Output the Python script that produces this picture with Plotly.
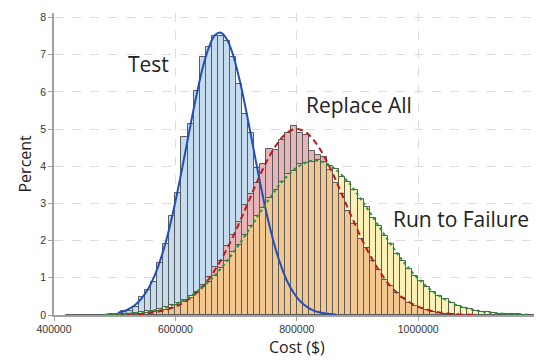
import plotly.graph_objects as go

# ---------------- data ----------------
BIN_W = 10000

test_bin_start = 500000
test_pct = [0.02, 0.10, 0.12, 0.22, 0.48, 0.67, 0.90, 1.40, 1.92, 2.67,
            3.27, 4.79, 5.14, 6.02, 6.94, 7.20, 7.50, 7.50, 7.37, 6.94,
            6.20, 5.40, 4.90, 3.95, 3.10, 2.35, 1.75, 1.20, 0.85, 0.56,
            0.35, 0.22, 0.13, 0.07, 0.04, 0.02]

replace_bin_start = 520000
replace_pct = [0.01, 0.02, 0.03, 0.05, 0.08, 0.10, 0.14, 0.20, 0.27, 0.36,
               0.45, 0.62, 0.80, 1.02, 1.30, 1.45, 1.85, 2.15, 2.50, 2.95,
               3.25, 3.55, 4.05, 4.47, 4.45, 4.70, 4.90, 5.08, 4.90, 4.85,
               4.40, 4.30, 4.25, 3.90, 3.55, 3.25, 2.80, 2.45, 2.05, 1.80,
               1.45, 1.20, 0.95, 0.78, 0.58, 0.45, 0.33, 0.25, 0.18, 0.13,
               0.09, 0.06, 0.04, 0.02, 0.01]

run_bin_start = 420000
run_pct = [0.01, 0.01, 0.01, 0.01, 0.01, 0.01, 0.01, 0.02, 0.02, 0.03,
           0.04, 0.05, 0.07, 0.10, 0.12, 0.17, 0.22, 0.26, 0.33, 0.40,
           0.52, 0.60, 0.76, 0.90, 1.05, 1.27, 1.45, 1.70, 1.88, 2.15,
           2.38, 2.66, 2.87, 3.15, 3.35, 3.58, 3.78, 3.88, 4.05, 4.10,
           4.12, 4.18, 4.12, 4.00, 3.92, 3.72, 3.58, 3.35, 3.12, 2.90,
           2.62, 2.40, 2.12, 1.92, 1.65, 1.45, 1.25, 1.05, 0.92, 0.74,
           0.62, 0.50, 0.42, 0.33, 0.25, 0.20, 0.16, 0.12, 0.09, 0.07,
           0.05, 0.04, 0.03, 0.02, 0.02, 0.01, 0.01, 0.01]

# fitted curves, read at 10k steps
test_curve_start = 505000
test_curve = [0.06, 0.10, 0.18, 0.29, 0.46, 0.70, 1.03, 1.47, 2.01, 2.68,
              3.44, 4.27, 5.12, 5.93, 6.65, 7.19, 7.52, 7.59, 7.41, 6.99,
              6.37, 5.62, 4.78, 3.93, 3.12, 2.40, 1.78, 1.28, 0.88, 0.59,
              0.38, 0.24, 0.14, 0.08, 0.05, 0.03, 0.01]

replace_curve_start = 505000
replace_curve = [0.006, 0.009, 0.014, 0.02, 0.03, 0.05, 0.07, 0.10, 0.14, 0.19,
                 0.26, 0.35, 0.46, 0.60, 0.76, 0.97, 1.21, 1.48, 1.78, 2.11,
                 2.47, 2.84, 3.22, 3.60, 3.95, 4.27, 4.54, 4.76, 4.91, 4.99,
                 4.99, 4.91, 4.76, 4.54, 4.27, 3.95, 3.60, 3.22, 2.84, 2.47,
                 2.11, 1.78, 1.48, 1.21, 0.97, 0.76, 0.60, 0.46, 0.35, 0.26,
                 0.19, 0.14, 0.10, 0.07, 0.05, 0.03, 0.02, 0.01, 0.01, 0.005]

run_curve_start = 485000
run_curve = [0.011, 0.015, 0.021, 0.029, 0.04, 0.054, 0.07, 0.095, 0.124, 0.16,
             0.21, 0.26, 0.33, 0.41, 0.51, 0.62, 0.75, 0.90, 1.06, 1.25,
             1.45, 1.67, 1.90, 2.14, 2.39, 2.64, 2.89, 3.13, 3.36, 3.57,
             3.75, 3.90, 4.02, 4.10, 4.15, 4.15, 4.10, 4.02, 3.90, 3.75,
             3.57, 3.36, 3.13, 2.89, 2.64, 2.39, 2.14, 1.90, 1.67, 1.45,
             1.25, 1.06, 0.90, 0.75, 0.62, 0.51, 0.41, 0.33, 0.26, 0.21,
             0.16, 0.124, 0.095, 0.07, 0.054, 0.04, 0.029, 0.021, 0.015, 0.011,
             0.008]

x_ticks = [400000, 600000, 800000, 1000000]
y_ticks = [0, 1, 2, 3, 4, 5, 6, 7, 8]

label_test = "Test"
label_replace = "Replace All"
label_run = "Run to Failure"
x_title = "Cost ($)"
y_title = "Percent"

# ---------------- helpers ----------------
def bin_centers(start, n):
    return [start + BIN_W / 2 + i * BIN_W for i in range(n)]

def curve_x(start, n):
    return [start + i * BIN_W for i in range(n)]

test_x = bin_centers(test_bin_start, len(test_pct))
rep_x = bin_centers(replace_bin_start, len(replace_pct))
run_x = bin_centers(run_bin_start, len(run_pct))

# overlap of Replace All and Run to Failure (shown in orange)
rep_map = dict(zip(rep_x, replace_pct))
ov_x, ov_y = [], []
for x, v in zip(run_x, run_pct):
    if x in rep_map:
        ov_x.append(x)
        ov_y.append(min(v, rep_map[x]))

EDGE = dict(color="#5a5a5a", width=1)

fig = go.Figure()
fig.add_trace(go.Bar(x=test_x, y=test_pct, width=BIN_W,
                     marker=dict(color="#c5dbee", line=EDGE)))
fig.add_trace(go.Bar(x=rep_x, y=replace_pct, width=BIN_W,
                     marker=dict(color="#e6b5ba", line=EDGE)))
fig.add_trace(go.Bar(x=run_x, y=run_pct, width=BIN_W,
                     marker=dict(color="#fbf0b6", line=EDGE)))
fig.add_trace(go.Bar(x=ov_x, y=ov_y, width=BIN_W,
                     marker=dict(color="#f2c890", line=EDGE)))

fig.add_trace(go.Scatter(x=curve_x(test_curve_start, len(test_curve)), y=test_curve,
                         mode="lines", line=dict(color="#2050b8", width=2, shape="spline")))
fig.add_trace(go.Scatter(x=curve_x(replace_curve_start, len(replace_curve)), y=replace_curve,
                         mode="lines", line=dict(color="#b01e1e", width=2, dash="6px,4px", shape="spline")))
fig.add_trace(go.Scatter(x=curve_x(run_curve_start, len(run_curve)), y=run_curve,
                         mode="lines", line=dict(color="#1f9a3a", width=2, dash="3px,3px", shape="spline")))

TXT = "'Open Sans', Lato, sans-serif"
LBL = dict(family=TXT, size=21, color="#222")
fig.add_annotation(x=555000, y=6.76, xref="x", yref="y", text=label_test,
                   showarrow=False, font=LBL)
fig.add_annotation(x=902000, y=5.64, xref="x", yref="y", text=label_replace,
                   showarrow=False, font=LBL)
fig.add_annotation(x=1071000, y=2.57, xref="x", yref="y", text=label_run,
                   showarrow=False, font=LBL)
# axis titles
fig.add_annotation(x=0.5, y=-0.063, xref="paper", yref="paper", yanchor="top",
                   text=x_title, showarrow=False, font=dict(family=TXT, size=16, color="#222"))
fig.add_annotation(x=-0.034, y=0.5, xref="paper", yref="paper", xanchor="right",
                   text=y_title, textangle=-90, showarrow=False,
                   font=dict(family=TXT, size=16, color="#222"))

# page body adds an 8px offset, so the figure is sized to fit the rest of the window
fig.update_layout(
    width=534, height=352,
    margin=dict(l=46, r=3, t=3, b=45),
    paper_bgcolor="white", plot_bgcolor="white",
    barmode="overlay", bargap=0, showlegend=False,
    font=dict(family="'Liberation Sans', Arial, sans-serif", size=10.5, color="#333"),
)
fig.update_xaxes(range=[400000, 1199000], tickvals=x_ticks, ticktext=[str(v) for v in x_ticks],
                 showgrid=True, gridcolor="#dcdcdc", griddash="dash", gridwidth=1,
                 showline=True, linecolor="#a0a0a0", linewidth=1.5,
                 ticks="outside", ticklen=4, tickcolor="#a0a0a0", zeroline=False)
fig.update_yaxes(range=[0, 8.12], tickvals=y_ticks,
                 showgrid=True, gridcolor="#dcdcdc", griddash="dash", gridwidth=1,
                 showline=True, linecolor="#a0a0a0", linewidth=1.5,
                 ticks="outside", ticklen=4, tickcolor="#a0a0a0", zeroline=False)

fig.write_html("out.html")
